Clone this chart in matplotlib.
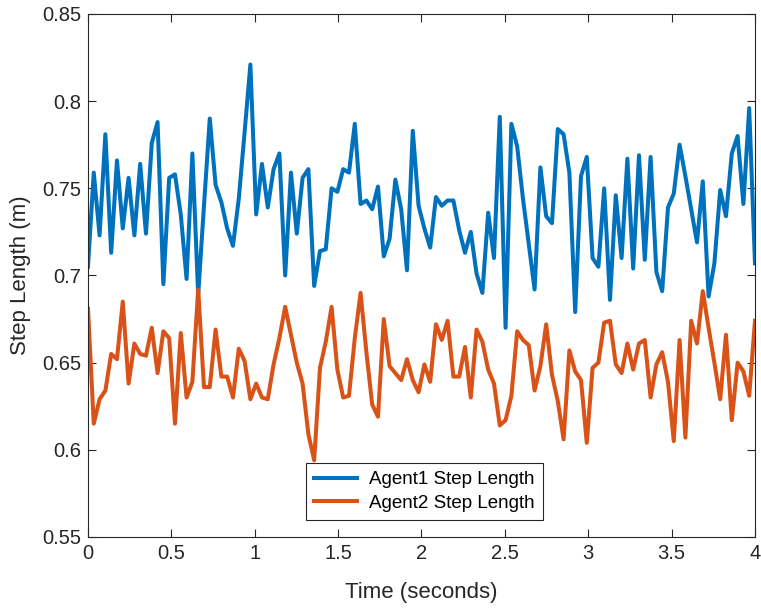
import matplotlib
matplotlib.use('Agg')
import matplotlib.pyplot as plt
from matplotlib.ticker import FuncFormatter
import numpy as np

# step lengths sampled evenly over the 4 s window
agent1_step = [
    0.705, 0.759, 0.723, 0.781, 0.713, 0.766, 0.727, 0.756, 0.723, 0.764,
    0.724, 0.776, 0.788, 0.695, 0.756, 0.758, 0.735, 0.698, 0.770, 0.689,
    0.740, 0.790, 0.752, 0.742, 0.727, 0.717, 0.744, 0.782, 0.821, 0.735,
    0.764, 0.739, 0.761, 0.770, 0.700, 0.759, 0.724, 0.756, 0.761, 0.694,
    0.714, 0.715, 0.750, 0.748, 0.761, 0.759, 0.787, 0.741, 0.743, 0.738,
    0.751, 0.711, 0.721, 0.755, 0.738, 0.703, 0.783, 0.740, 0.727, 0.716,
    0.745, 0.740, 0.743, 0.743, 0.726, 0.713, 0.725, 0.701, 0.690, 0.736,
    0.710, 0.791, 0.670, 0.787, 0.774, 0.744, 0.718, 0.692, 0.762, 0.734,
    0.730, 0.784, 0.781, 0.759, 0.679, 0.757, 0.768, 0.710, 0.705, 0.750,
    0.686, 0.746, 0.710, 0.767, 0.704, 0.769, 0.709, 0.768, 0.702, 0.691,
    0.739, 0.747, 0.775, 0.757, 0.738, 0.719, 0.754, 0.688, 0.707, 0.749,
    0.734, 0.770, 0.780, 0.741, 0.796, 0.707,
]
agent2_step = [
    0.681, 0.615, 0.629, 0.634, 0.655, 0.652, 0.685, 0.638, 0.661, 0.655,
    0.654, 0.670, 0.644, 0.668, 0.664, 0.615, 0.667, 0.630, 0.639, 0.692,
    0.636, 0.636, 0.669, 0.642, 0.642, 0.630, 0.658, 0.651, 0.629, 0.638,
    0.630, 0.629, 0.649, 0.664, 0.682, 0.666, 0.650, 0.638, 0.609, 0.594,
    0.647, 0.662, 0.682, 0.646, 0.630, 0.631, 0.664, 0.690, 0.656, 0.626,
    0.619, 0.675, 0.648, 0.644, 0.640, 0.652, 0.640, 0.633, 0.649, 0.639,
    0.672, 0.663, 0.674, 0.642, 0.642, 0.659, 0.630, 0.669, 0.662, 0.646,
    0.638, 0.614, 0.617, 0.631, 0.668, 0.663, 0.660, 0.634, 0.648, 0.672,
    0.643, 0.628, 0.606, 0.657, 0.645, 0.640, 0.604, 0.647, 0.650, 0.673,
    0.674, 0.649, 0.644, 0.661, 0.646, 0.661, 0.663, 0.630, 0.649, 0.656,
    0.639, 0.605, 0.663, 0.607, 0.674, 0.661, 0.691, 0.670, 0.650, 0.629,
    0.666, 0.617, 0.650, 0.645, 0.631, 0.674,
]
time_s = np.linspace(0, 4, len(agent1_step))

x_ticks = [0, 0.5, 1, 1.5, 2, 2.5, 3, 3.5, 4]
y_ticks = [0.55, 0.6, 0.65, 0.7, 0.75, 0.8, 0.85]

plt.rcParams['font.family'] = ['Liberation Sans', 'DejaVu Sans']
axis_gray = '#262626'

fig = plt.figure(figsize=(7.61, 6.08), dpi=100)
ax = fig.add_axes([0.1156, 0.1168, 0.8765, 0.8602])

ax.plot(time_s, agent1_step, color='#0072BD', lw=2.9, label='Agent1 Step Length')
ax.plot(time_s, agent2_step, color='#D95319', lw=2.9, label='Agent2 Step Length')

ax.set_xlim(0, 4)
ax.set_ylim(0.55, 0.85)
ax.set_xticks(x_ticks)
ax.set_yticks(y_ticks)
ax.xaxis.set_major_formatter(FuncFormatter(lambda v, p: '%g' % v))
ax.yaxis.set_major_formatter(FuncFormatter(lambda v, p: '%g' % v))
ax.tick_params(direction='in', length=6, width=0.8, top=True, right=True,
               labelsize=14.5, colors=axis_gray, pad=5)
for s in ax.spines.values():
    s.set_color(axis_gray)
    s.set_linewidth(0.8)

ax.set_xlabel('Time (seconds)', fontsize=16, color=axis_gray, labelpad=14)
ax.set_ylabel('Step Length (m)', fontsize=16, color=axis_gray, labelpad=8)

leg = ax.legend(loc='lower center', bbox_to_anchor=(0.504, 0.032), fontsize=13.5,
                handlelength=2.3, fancybox=False, framealpha=1,
                borderpad=0.45, labelspacing=0.35, handletextpad=0.6,
                borderaxespad=0)
leg.get_frame().set_edgecolor(axis_gray)
leg.get_frame().set_linewidth(0.8)

plt.savefig('out.png', dpi=100)
